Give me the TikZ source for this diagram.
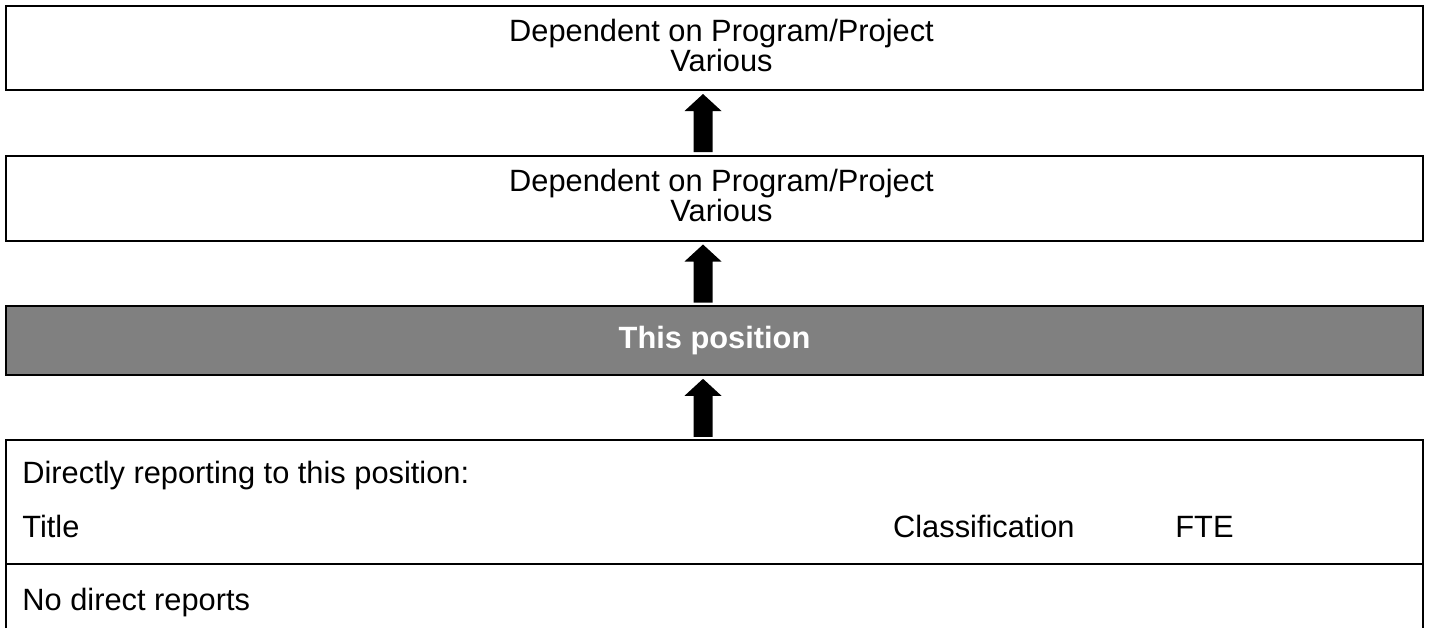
\documentclass[tikz,border=0pt]{standalone}
\usepackage{fontspec}
\setmainfont{Liberation Sans}
\usetikzlibrary{calc}
\begin{document}
\begin{tikzpicture}[x=0.5pt,y=-0.5pt,
  box/.style={draw=black,line width=1pt,minimum width=708.5pt,inner sep=0pt,outer sep=0pt},
  txt/.style={font=\fontsize{15.4}{18}\selectfont,inner sep=0pt,anchor=base},
  ltxt/.style={txt,anchor=base west},
  uparrow/.pic={\fill[black] (-9.5,0) -- (-9.5,-41) -- (-18.5,-41) -- (0,-58) -- (18.5,-41) -- (9.5,-41) -- (9.5,0) -- cycle;}]
\useasboundingbox (0,0) rectangle (1429,628);
% boxes
\node[box,minimum height=42pt] (b1) at (714.5,48) {};
\node[box,minimum height=42.75pt] (b2) at (714.5,198.25) {};
\node[box,fill={rgb,255:red,128;green,128;blue,128},minimum height=34.25pt] (b3) at (714.5,340.25) {};
\node[inner sep=0pt,outer sep=0pt,minimum width=708.5pt,minimum height=93.85pt] (b4) at (714.5,534.15) {};
\draw[line width=1pt] (b4.south west) |- (b4.north east) -- (b4.south east);
\coordinate (dl) at (b4.west |- 0,563.7);
\coordinate (dr) at (b4.east |- 0,563.7);
\draw[line width=1pt] (dl) -- (dr);
% texts
\node[txt] (t1a) at (721.5,41) {Dependent on Program/Project};
\node[txt] (t1b) at (721.5,71) {Various};
\node[txt] (t2a) at (721.5,191) {Dependent on Program/Project};
\node[txt] (t2b) at (721.5,221) {Various};
\node[txt,text=white,font=\fontsize{15.4}{18}\selectfont\bfseries] (t3) at (714.5,348) {This position};
\node[ltxt] (t4a) at (22,483) {Directly reporting to this position:};
\node[ltxt] (t4b) at (22,537) {Title};
\node[txt,anchor=base east] (t4c) at (1075,537) {Classification};
\node[ltxt] (t4d) at (1175,537) {FTE};
\node[ltxt] (t4e) at (22,610) {No direct reports};
% arrows
\pic at ($(b2.north)+(-11.5,-3.5)$) {uparrow};
\pic at ($(b3.north)+(-11.5,-3.5)$) {uparrow};
\pic at ($(b4.north)+(-11.5,-3.5)$) {uparrow};
\end{tikzpicture}
\end{document}
